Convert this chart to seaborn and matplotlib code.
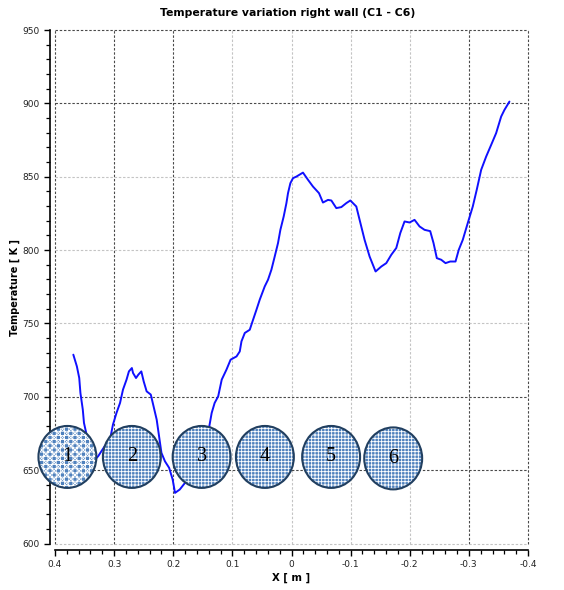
import matplotlib
matplotlib.use("Agg")
import numpy as np
import pandas as pd
import matplotlib.pyplot as plt
import seaborn as sns
from matplotlib.path import Path
from matplotlib.transforms import Affine2D
from matplotlib.ticker import FixedLocator, MultipleLocator, FuncFormatter

# Wall temperature profile along X
position_m = [
    0.369, 0.363, 0.359, 0.357, 0.353, 0.351, 0.341, 0.335, 0.327, 0.316,
    0.307, 0.302, 0.296, 0.290, 0.285, 0.279, 0.275, 0.270, 0.268, 0.263,
    0.259, 0.254, 0.250, 0.245, 0.238, 0.234, 0.228, 0.224, 0.220, 0.214,
    0.207, 0.201, 0.197, 0.189, 0.178, 0.166, 0.155, 0.147, 0.139, 0.135,
    0.130, 0.124, 0.118, 0.110, 0.103, 0.093, 0.0875, 0.0846, 0.079, 0.0706,
    0.065, 0.0593, 0.0537, 0.0453, 0.0397, 0.034, 0.0284, 0.0228, 0.0188, 0.0132,
    0.0086, 0.0059, 0.0019, -0.0025, -0.0083, -0.0194, -0.0279, -0.0363, -0.0465, -0.0532,
    -0.0617, -0.0674, -0.0758, -0.0843, -0.0927, -0.0995, -0.1096, -0.1152, -0.1236, -0.1321,
    -0.1422, -0.1519, -0.1603, -0.1688, -0.1772, -0.1840, -0.1912, -0.1997, -0.2081, -0.2166,
    -0.2250, -0.2346, -0.2402, -0.2458, -0.2532, -0.2605, -0.2684, -0.2774, -0.2829, -0.2897,
    -0.2981, -0.3066, -0.3133, -0.3208, -0.3292, -0.3377, -0.3461, -0.3546, -0.3601, -0.3686,
]
temperature_k = [
    728.7, 720.7, 712.8, 702.6, 691.3, 682.2, 664.0, 656.0, 659.5, 666.3,
    670.8, 681.0, 689.0, 695.8, 704.9, 711.7, 717.3, 719.6, 716.2, 712.8,
    715.1, 717.3, 710.5, 703.7, 701.5, 694.7, 684.4, 673.1, 661.8, 656.0,
    651.6, 643.6, 634.5, 636.8, 642.4, 649.2, 661.8, 670.8, 679.9, 689.0,
    695.8, 700.3, 711.7, 718.5, 725.3, 727.5, 730.9, 737.8, 743.5, 745.7,
    752.5, 759.3, 766.2, 775.2, 779.8, 786.6, 795.6, 804.8, 813.8, 822.9,
    832.0, 838.8, 845.6, 849.0, 850.1, 852.8, 847.9, 843.3, 838.8, 832.4,
    834.2, 833.8, 828.6, 829.3, 832.0, 833.8, 829.7, 820.6, 807.0, 795.6,
    785.4, 788.8, 791.1, 796.8, 801.4, 811.6, 819.5, 818.8, 820.6, 816.1,
    813.8, 812.9, 804.8, 794.5, 793.4, 791.1, 792.2, 792.2, 800.2, 807.0,
    818.4, 829.7, 841.1, 854.7, 863.7, 871.7, 879.7, 891.0, 895.5, 901.2,
]

# Thermocouple markers C1 - C6
probe_labels = ["1", "2", "3", "4", "5", "6"]
probe_x = [0.379, 0.270, 0.152, 0.045, -0.067, -0.172]
probe_y = [659, 659, 659, 659, 659, 658]

x_ticks = [0.4, 0.3, 0.2, 0.1, 0.0, -0.1, -0.2, -0.3, -0.4]
y_ticks = [600, 650, 700, 750, 800, 850, 900, 950]

sns.set_theme(style="white")
plt.rcParams["font.family"] = ["DejaVu Sans"]
plt.rcParams["axes.unicode_minus"] = False
plt.rcParams["hatch.linewidth"] = 0.6

W, H = 564, 590
fig = plt.figure(figsize=(W / 100, H / 100), dpi=100)
ax = fig.add_axes([55 / W, 1 - 543.5 / H, (528 - 55) / W, (543.5 - 30) / H])

df = pd.DataFrame({"x": position_m, "T": temperature_k})
sns.lineplot(data=df, x="x", y="T", sort=False, estimator=None,
             color="#1010ff", linewidth=1.4, ax=ax, zorder=3)

ax.set_xlim(0.4, -0.4)
ax.set_ylim(600, 950)
ax.set_xlabel("")
ax.set_ylabel("")

ax.xaxis.set_major_locator(FixedLocator(x_ticks))
ax.yaxis.set_major_locator(FixedLocator(y_ticks))
ax.xaxis.set_minor_locator(MultipleLocator(0.02))
ax.yaxis.set_minor_locator(MultipleLocator(10))
ax.xaxis.set_major_formatter(FuncFormatter(lambda v, p: f"{v:g}" if abs(v) > 1e-9 else "0"))
ax.yaxis.set_major_formatter(FuncFormatter(lambda v, p: f"{v:g}"))

ax.tick_params(axis="both", which="major", direction="out", length=4.5, width=1.0,
               color="black", labelsize=6.5, labelcolor="#222222", pad=3)
ax.tick_params(axis="both", which="minor", direction="out", length=3, width=0.9,
               color="black")
ax.tick_params(axis="x", which="both", bottom=True)
ax.tick_params(axis="y", which="both", left=True)

sns.despine(ax=ax, offset={"left": 3.6, "bottom": 4.6})
for side in ("left", "bottom"):
    ax.spines[side].set_color("black")
    ax.spines[side].set_linewidth(1.2)

# Dashed grid, some lines darker than others
ax.grid(True, which="major", linestyle=(0, (2.2, 1.6)), linewidth=0.8)
dark_x = {0.4, 0.3, 0.2, -0.3, -0.4}
dark_y = {950, 900, 700, 650}
for val, gl in zip(x_ticks, ax.get_xgridlines()):
    gl.set_color("#4a4a4a" if val in dark_x else "#c4c4c4")
    gl.set_clip_on(False)
for val, gl in zip(y_ticks, ax.get_ygridlines()):
    gl.set_color("#4a4a4a" if val in dark_y else "#c4c4c4")
    gl.set_clip_on(False)

# Probe circles (slightly tall ellipses, hatched blue fill)
ellipse = Path.unit_circle().transformed(Affine2D().scale(1.0, 1.07))
size = 1990
for i, (px, py, lab) in enumerate(zip(probe_x, probe_y, probe_labels)):
    hatch = "++++xxxx" if i == 0 else "+++++"
    ax.scatter([px], [py], s=size, marker=ellipse, facecolors="#4f81bd",
               edgecolors="white", linewidths=0, hatch=hatch, zorder=5,
               clip_on=False)
    ax.scatter([px], [py], s=size, marker=ellipse, facecolors="none",
               edgecolors="#213f60", linewidths=1.5, zorder=6, clip_on=False)
    ax.text(px, py, lab, ha="center", va="center", fontsize=14.5,
            family=["Liberation Serif", "DejaVu Serif"], color="black", zorder=7)

fig.text(288 / W, 1 - 13 / H, "Temperature variation right wall (C1 - C6)",
         ha="center", va="center", fontsize=7.8, fontweight="bold", color="black")
fig.text(291 / W, 1 - 578 / H, "X [ m ]", ha="center", va="center",
         fontsize=7.3, fontweight="bold", color="black")
fig.text(15 / W, 1 - 287 / H, "Temperature [ K ]", ha="center", va="center",
         rotation=90, fontsize=7, fontweight="bold", color="black")

fig.savefig("out.png", dpi=100, facecolor="white")
